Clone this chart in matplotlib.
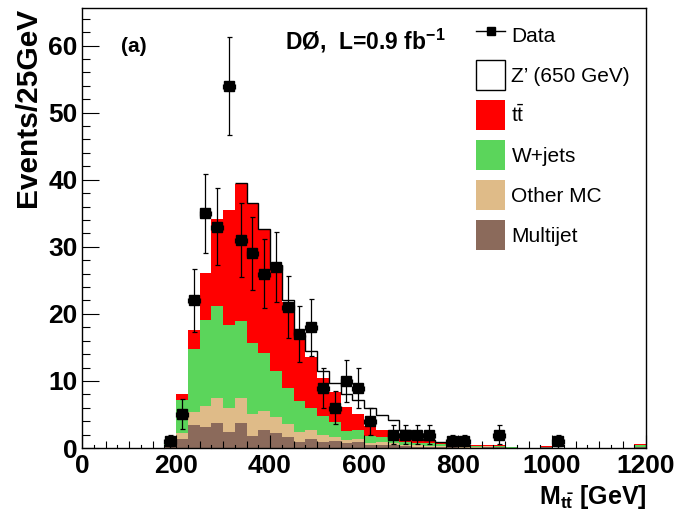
import numpy as np
import matplotlib
matplotlib.use("Agg")
import matplotlib.pyplot as plt
from matplotlib.patches import Patch
from matplotlib.lines import Line2D
import matplotlib.transforms as mtransforms

plt.rcParams['font.family'] = ['Liberation Sans', 'DejaVu Sans']
plt.rcParams['mathtext.fontset'] = 'custom'
plt.rcParams['mathtext.rm'] = 'Liberation Sans'
plt.rcParams['mathtext.bf'] = 'Liberation Sans:bold'
plt.rcParams['mathtext.it'] = 'Liberation Sans:italic'

# ---- data (25 GeV bins, 0..1200 GeV) ----
bin_edges = np.arange(0, 1225, 25)

data_counts = [0, 0, 0, 0, 0, 0, 0, 1, 5, 22, 35, 33, 54, 31, 29, 26,
               27, 21, 17, 18, 9, 6, 10, 9, 4, 0, 2, 2, 2, 2, 0, 1,
               1, 0, 0, 2, 0, 0, 0, 0, 1, 0, 0, 0, 0, 0, 0, 0]

multijet = [0, 0, 0, 0, 0, 0, 0, 0.1, 1.4, 3.4, 3.1, 3.8, 2.4, 3.8, 1.8, 2.7,
            2.2, 1.7, 0.9, 1.4, 0.9, 1.0, 0.8, 0.85, 0.45, 0.4, 0.45, 0.3, 0.2, 0.2, 0.15, 0.1,
            0.05, 0.05, 0.15, 0.15, 0.05, 0.05, 0.05, 0.1, 0.05, 0.05, 0.05, 0.05, 0.05, 0.05, 0.05, 0.1]

other_mc = [0, 0, 0, 0, 0, 0, 0, 0.1, 0.8, 2.0, 3.1, 3.6, 3.5, 3.6, 3.3, 2.8,
            2.4, 1.9, 1.5, 1.3, 1.1, 0.7, 0.4, 0.55, 0.35, 0.45, 0.35, 0.2, 0.2, 0.15, 0.1, 0.05,
            0.05, 0.05, 0.15, 0.05, 0, 0, 0, 0, 0, 0, 0, 0, 0, 0, 0, 0.05]

wjets = [0, 0, 0, 0, 0, 0, 0, 1.0, 5.0, 9.4, 12.9, 13.8, 12.5, 11.6, 10.6, 8.6,
         6.9, 5.4, 4.6, 3.2, 2.7, 2.2, 1.3, 1.25, 1.0, 0.85, 1.1, 0.4, 0.4, 0.35, 0.35, 0.15,
         0.15, 0.25, 0.05, 0.05, 0.05, 0, 0, 0.05, 0, 0, 0, 0, 0, 0, 0, 0.25]

ttbar = [0, 0, 0, 0, 0, 0, 0, 0.05, 0.8, 2.8, 7.0, 13.0, 17.1, 20.4, 20.7, 18.4,
         15.6, 12.8, 9.5, 7.6, 5.8, 4.4, 3.6, 2.45, 1.5, 1.0, 0.8, 0.5, 0.4, 0.4, 0.2, 0.15,
         0.1, 0.15, 0.05, 0.15, 0.05, 0, 0, 0.15, 0, 0, 0, 0, 0, 0, 0, 0.15]

zprime = [0, 0, 0, 0, 0, 0, 0, 0, 0, 0, 0, 0, 0, 0.1, 0.15, 0.15,
          0.2, 0.3, 0.3, 0.9, 1.0, 1.4, 1.9, 2.0, 2.7, 2.2, 1.5, 1.3, 0.1, 0.1, 0.15, 0.1,
          0.05, 0, 0, 0, 0, 0, 0, 0, 0, 0, 0, 0, 0, 0, 0, 0]

labels = ['Data', "Z\u2019 (650 GeV)", r'$\mathrm{t\bar{t}}$', 'W+jets', 'Other MC', 'Multijet']

col_tt = '#ff0000'
col_w = '#5bd55b'
col_other = '#dfbb88'
col_mj = '#8b6a5b'

# ---- figure ----
W, H = 676, 525
fig = plt.figure(figsize=(W / 100, H / 100), dpi=100)
ax = fig.add_axes([82 / W, 77 / H, (646 - 82) / W, (448 - 8) / H])

mj = np.array(multijet)
ot = np.array(other_mc)
wj = np.array(wjets)
tt = np.array(ttbar)
zp = np.array(zprime)

c1 = mj
c2 = c1 + ot
c3 = c2 + wj
c4 = c3 + tt
c5 = c4 + zp

ax.stairs(c4, bin_edges, baseline=c3, fill=True, color=col_tt, lw=0)
ax.stairs(c3, bin_edges, baseline=c2, fill=True, color=col_w, lw=0)
ax.stairs(c2, bin_edges, baseline=c1, fill=True, color=col_other, lw=0)
ax.stairs(c1, bin_edges, baseline=0, fill=True, color=col_mj, lw=0)

nz = np.nonzero(zp)[0]
i0, i1 = nz[0], nz[-1] + 1
ax.stairs(c5[i0:i1], bin_edges[i0:i1 + 1], baseline=None, color='black', lw=1.0)

# data points
centers = 0.5 * (bin_edges[:-1] + bin_edges[1:])
dc = np.array(data_counts, dtype=float)
m = dc > 0
ax.errorbar(centers[m], dc[m], yerr=np.sqrt(dc[m]), xerr=12.5, fmt='s',
            color='black', ms=6.7, elinewidth=0.9, capsize=1.8, capthick=0.9,
            zorder=5)

ax.set_xlim(0, 1200)
ax.set_ylim(0, 65.6)

ax.set_xticks(np.arange(0, 1201, 200))
ax.set_xticks(np.arange(0, 1201, 50), minor=True)
ax.set_yticks(np.arange(0, 61, 10))
ax.set_yticks(np.arange(0, 65, 2), minor=True)

ax.tick_params(axis='x', which='major', direction='in', length=9.4, width=0.8,
               labelsize=19, pad=4, top=False)
ax.tick_params(axis='x', which='minor', direction='in', length=4.75, width=0.8, top=False)
ax.tick_params(axis='y', which='major', direction='in', length=12.2, width=0.8,
               labelsize=19, pad=3, right=False)
ax.tick_params(axis='y', which='minor', direction='in', length=6.1, width=0.8, right=False)
for lab in ax.get_xticklabels() + ax.get_yticklabels():
    lab.set_fontweight('bold')

# tertiary x ticks every 25 GeV
trans = mtransforms.blended_transform_factory(ax.transData, ax.transAxes)
for xv in np.arange(25, 1200, 50):
    ax.plot([xv, xv], [0, 0.0075], color='black', lw=0.8, transform=trans,
            clip_on=False, zorder=6)

for s in ax.spines.values():
    s.set_linewidth(1.0)
    s.set_zorder(7)

# labels
fig.text(28 / W, 1 - 8 / H, 'Events/25GeV', rotation=90, ha='center', va='top',
         fontsize=21.5, fontweight='bold')
fig.text(647 / W, 1 - 497 / H, r'$\mathbf{M}_{\mathbf{t\bar{t}}}$ [GeV]', ha='right',
         va='center', fontsize=18, fontweight='bold')

fig.text(134 / W, 1 - 46 / H, '(a)', ha='center', va='center', fontsize=15,
         fontweight='bold')
fig.text(285 / W, 1 - 41 / H, r'DØ,  L=0.9 fb$^{\mathbf{-1}}$', ha='left', va='center',
         fontsize=16.5, fontweight='bold')

# legend
handles = [
    Line2D([0], [0], color='black', lw=1, marker='s', ms=6),
    Patch(facecolor='white', edgecolor='black', lw=1),
    Patch(facecolor=col_tt, edgecolor='none'),
    Patch(facecolor=col_w, edgecolor='none'),
    Patch(facecolor=col_other, edgecolor='none'),
    Patch(facecolor=col_mj, edgecolor='none'),
]
leg = fig.legend(handles, labels, loc='upper left',
                 bbox_to_anchor=(476 / W, 1 - 20 / H), bbox_transform=fig.transFigure,
                 frameon=False, fontsize=15, borderpad=0, borderaxespad=0,
                 handlelength=1.4, handleheight=1.84, labelspacing=0.48,
                 handletextpad=0.3)

fig.savefig('out.png', dpi=100)
